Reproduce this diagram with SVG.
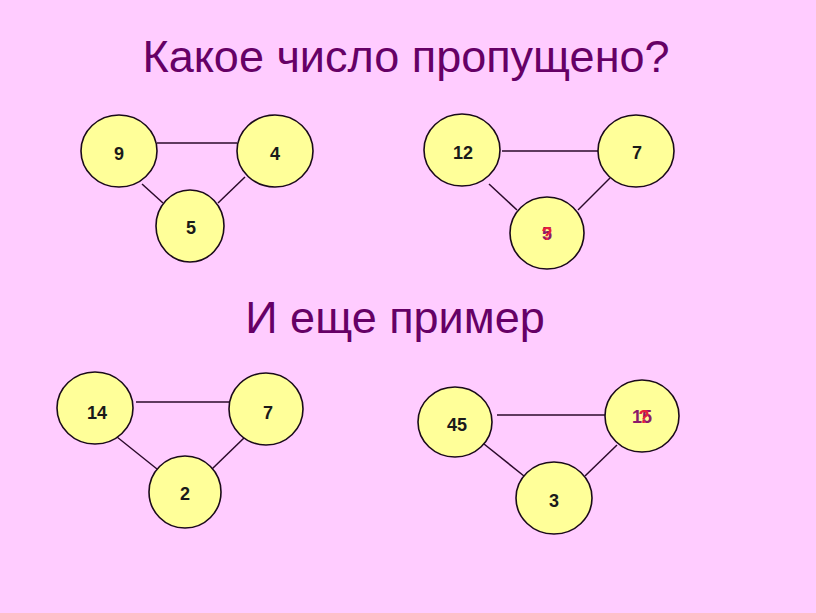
<svg xmlns="http://www.w3.org/2000/svg" width="816" height="613" viewBox="0 0 816 613">
<style>
.bg{fill:#FFCCFF}
.n ellipse{fill:#FFFF99;stroke:#1a0a1a;stroke-width:1.6}
.n text{font-family:"Liberation Sans",Arial,sans-serif;font-weight:bold;font-size:18px;fill:#1a1a1a;text-anchor:middle}
.n text.a{fill:#8a1a6a}
.n text.q{fill:#e8203a}
#connectors line{stroke:#2a0a2a;stroke-width:1.5}
.t{font-family:"Liberation Sans",Arial,sans-serif;font-size:45px;fill:#660066;text-anchor:middle}
</style>
<rect class="bg" width="816" height="613"/>
<text class="t" x="406" y="72">Какое число пропущено?</text>
<text class="t" x="395" y="333">И еще пример</text>
<g id="connectors">
<line x1="157" y1="143" x2="237" y2="143"/>
<line x1="142" y1="184" x2="163" y2="203"/>
<line x1="245" y1="177" x2="218" y2="203"/>
<line x1="502" y1="151" x2="598" y2="151"/>
<line x1="489" y1="184" x2="517" y2="210"/>
<line x1="610" y1="178" x2="578" y2="210"/>
<line x1="136" y1="402" x2="230" y2="402"/>
<line x1="117" y1="437" x2="157" y2="469"/>
<line x1="245" y1="437" x2="212" y2="469"/>
<line x1="497" y1="415" x2="606" y2="415"/>
<line x1="484" y1="444" x2="524" y2="476"/>
<line x1="617" y1="445" x2="585" y2="476"/>
</g>
<g id="n9" class="n"><ellipse cx="119" cy="151" rx="38" ry="36"/><text x="119" y="160">9</text></g>
<g id="n4" class="n"><ellipse cx="275" cy="151" rx="38" ry="36"/><text x="275" y="160">4</text></g>
<g id="n5" class="n"><ellipse cx="190" cy="226" rx="34" ry="36"/><text x="191" y="234">5</text></g>
<g id="n12" class="n"><ellipse cx="462" cy="150" rx="38" ry="36"/><text x="463" y="159">12</text></g>
<g id="n7a" class="n"><ellipse cx="636" cy="151" rx="38" ry="36"/><text x="637" y="159">7</text></g>
<g id="n5q" class="n"><ellipse cx="547" cy="233" rx="37" ry="36"/><text class="a" x="547" y="240">5</text><text class="q" x="547" y="240">?</text></g>
<g id="n14" class="n"><ellipse cx="95" cy="408" rx="38" ry="36"/><text x="97" y="419">14</text></g>
<g id="n7b" class="n"><ellipse cx="266" cy="409" rx="37" ry="36"/><text x="268" y="419">7</text></g>
<g id="n2" class="n"><ellipse cx="185" cy="492" rx="36" ry="36"/><text x="185" y="500">2</text></g>
<g id="n45" class="n"><ellipse cx="455" cy="422" rx="37" ry="35"/><text x="457" y="431">45</text></g>
<g id="n15q" class="n"><ellipse cx="642" cy="416" rx="37" ry="36"/><text class="a" x="642" y="423">15</text><text class="q" x="644" y="423">?</text></g>
<g id="n3" class="n"><ellipse cx="554" cy="498" rx="38" ry="36"/><text x="554" y="507">3</text></g>
</svg>
